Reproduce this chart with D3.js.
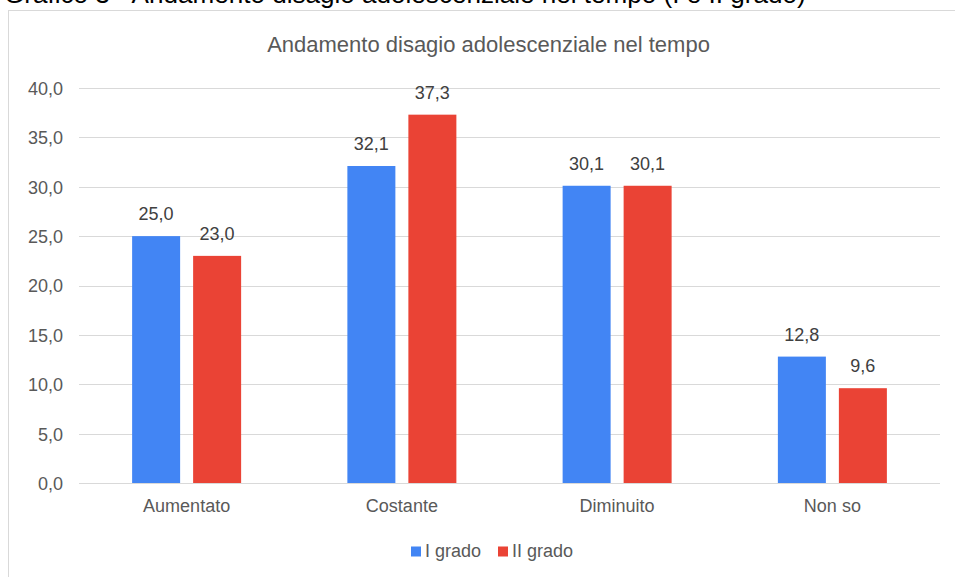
<!DOCTYPE html>
<html>
<head>
<meta charset="utf-8">
<script src="https://cdn.jsdelivr.net/npm/d3@7/dist/d3.min.js"></script>
<style>
  html, body { margin: 0; padding: 0; background: #fff; }
  svg { display: block; }
</style>
</head>
<body>
<svg id="chart" width="955" height="577"></svg>
<script>
// Chart data
const CATEGORIES = ['Aumentato', 'Costante', 'Diminuito', 'Non so'];
const SERIES = ['I grado', 'II grado'];
const I_GRADO = [25.0, 32.1, 30.1, 12.8];
const II_GRADO = [23.0, 37.3, 30.1, 9.6];
const Y_TICKS = [0, 5, 10, 15, 20, 25, 30, 35, 40];
const HEADING = 'Grafico 3 - Andamento disagio adolescenziale nel tempo (I e II grado)';
const TITLE = 'Andamento disagio adolescenziale nel tempo';

const W = 955, H = 577;
const FONT = 'Liberation Sans, Arial, Helvetica, sans-serif';
const COLORS = { 'I grado': '#4285F4', 'II grado': '#EA4335' };
const TEXT = '#595959';
const GRID = '#d9d9d9';

const PLOT = { left: 79, right: 940, top: 88, bottom: 483 };

const svg = d3.select('#chart');
const fmt = v => d3.format('.1f')(v).replace('.', ',');

// heading above the chart box (cut off at the top in the original)
const head = svg.append('text')
  .attr('x', 4).attr('y', 3)
  .attr('font-family', FONT).attr('font-size', 24)
  .attr('fill', '#000')
  .text(HEADING);
// stretch to the width seen in the reference
const hw = head.node().getComputedTextLength();
head.attr('font-size', 24 * 802 / hw);

// chart frame
svg.append('rect')
  .attr('x', 8.5).attr('y', 10.5)
  .attr('width', 960).attr('height', 600)
  .attr('fill', '#fff').attr('stroke', GRID).attr('stroke-width', 1);

svg.append('text')
  .attr('x', 488.5).attr('y', 51.5)
  .attr('text-anchor', 'middle')
  .attr('font-family', FONT).attr('font-size', 22)
  .attr('fill', TEXT)
  .text(TITLE);

const x0 = d3.scaleBand().domain(CATEGORIES).range([PLOT.left, PLOT.right]).padding(0);
const x1 = d3.scaleBand().domain(SERIES).range([0, 109]).paddingInner(13 / 61).paddingOuter(0);
const y = d3.scaleLinear().domain([0, 40]).range([PLOT.bottom, PLOT.top]);

// gridlines
svg.append('g')
  .selectAll('line')
  .data(Y_TICKS)
  .join('line')
  .attr('x1', PLOT.left).attr('x2', PLOT.right)
  .attr('y1', d => Math.round(y(d)) + 0.5).attr('y2', d => Math.round(y(d)) + 0.5)
  .attr('stroke', GRID).attr('stroke-width', 1);

// y axis labels
const yAxis = svg.append('g')
  .attr('transform', `translate(${PLOT.left - 16},0)`)
  .call(d3.axisLeft(y).tickValues(Y_TICKS).tickFormat(fmt).tickSize(0).tickPadding(0));
yAxis.select('.domain').remove();
yAxis.selectAll('text')
  .attr('font-family', FONT).attr('font-size', 18)
  .attr('fill', TEXT).attr('dy', '0.36em');

// x axis labels
const xAxis = svg.append('g')
  .attr('transform', `translate(0,${PLOT.bottom})`)
  .call(d3.axisBottom(x0).tickSize(0).tickPadding(0));
xAxis.select('.domain').remove();
xAxis.selectAll('text')
  .attr('font-family', FONT).attr('font-size', 18)
  .attr('fill', TEXT).attr('y', 29).attr('dy', 0);

// bars
const rows = CATEGORIES.map((c, i) => ({ cat: c, vals: [
  { s: 'I grado', v: I_GRADO[i] }, { s: 'II grado', v: II_GRADO[i] }
] }));

const groups = svg.append('g')
  .selectAll('g')
  .data(rows)
  .join('g')
  .attr('transform', d => `translate(${x0(d.cat) + x0.bandwidth() / 2 - 54.5},0)`);

groups.selectAll('rect')
  .data(d => d.vals)
  .join('rect')
  .attr('x', d => x1(d.s))
  .attr('y', d => y(d.v))
  .attr('width', x1.bandwidth())
  .attr('height', d => y(0) - y(d.v))
  .attr('fill', d => COLORS[d.s]);

groups.selectAll('text')
  .data(d => d.vals)
  .join('text')
  .attr('x', d => x1(d.s) + x1.bandwidth() / 2)
  .attr('y', d => y(d.v) - 16)
  .attr('text-anchor', 'middle')
  .attr('font-family', FONT).attr('font-size', 18)
  .attr('fill', '#404040')
  .text(d => fmt(d.v));

// legend
const legend = svg.append('g').attr('transform', 'translate(411,546.5)');
const legX = [0, 87];
SERIES.forEach((s, i) => {
  legend.append('rect')
    .attr('x', legX[i]).attr('y', 0)
    .attr('width', 10).attr('height', 10)
    .attr('fill', COLORS[s]);
  legend.append('text')
    .attr('x', legX[i] + 14).attr('y', 10)
    .attr('font-family', FONT).attr('font-size', 18)
    .attr('fill', TEXT)
    .text(s);
});
</script>
</body>
</html>
